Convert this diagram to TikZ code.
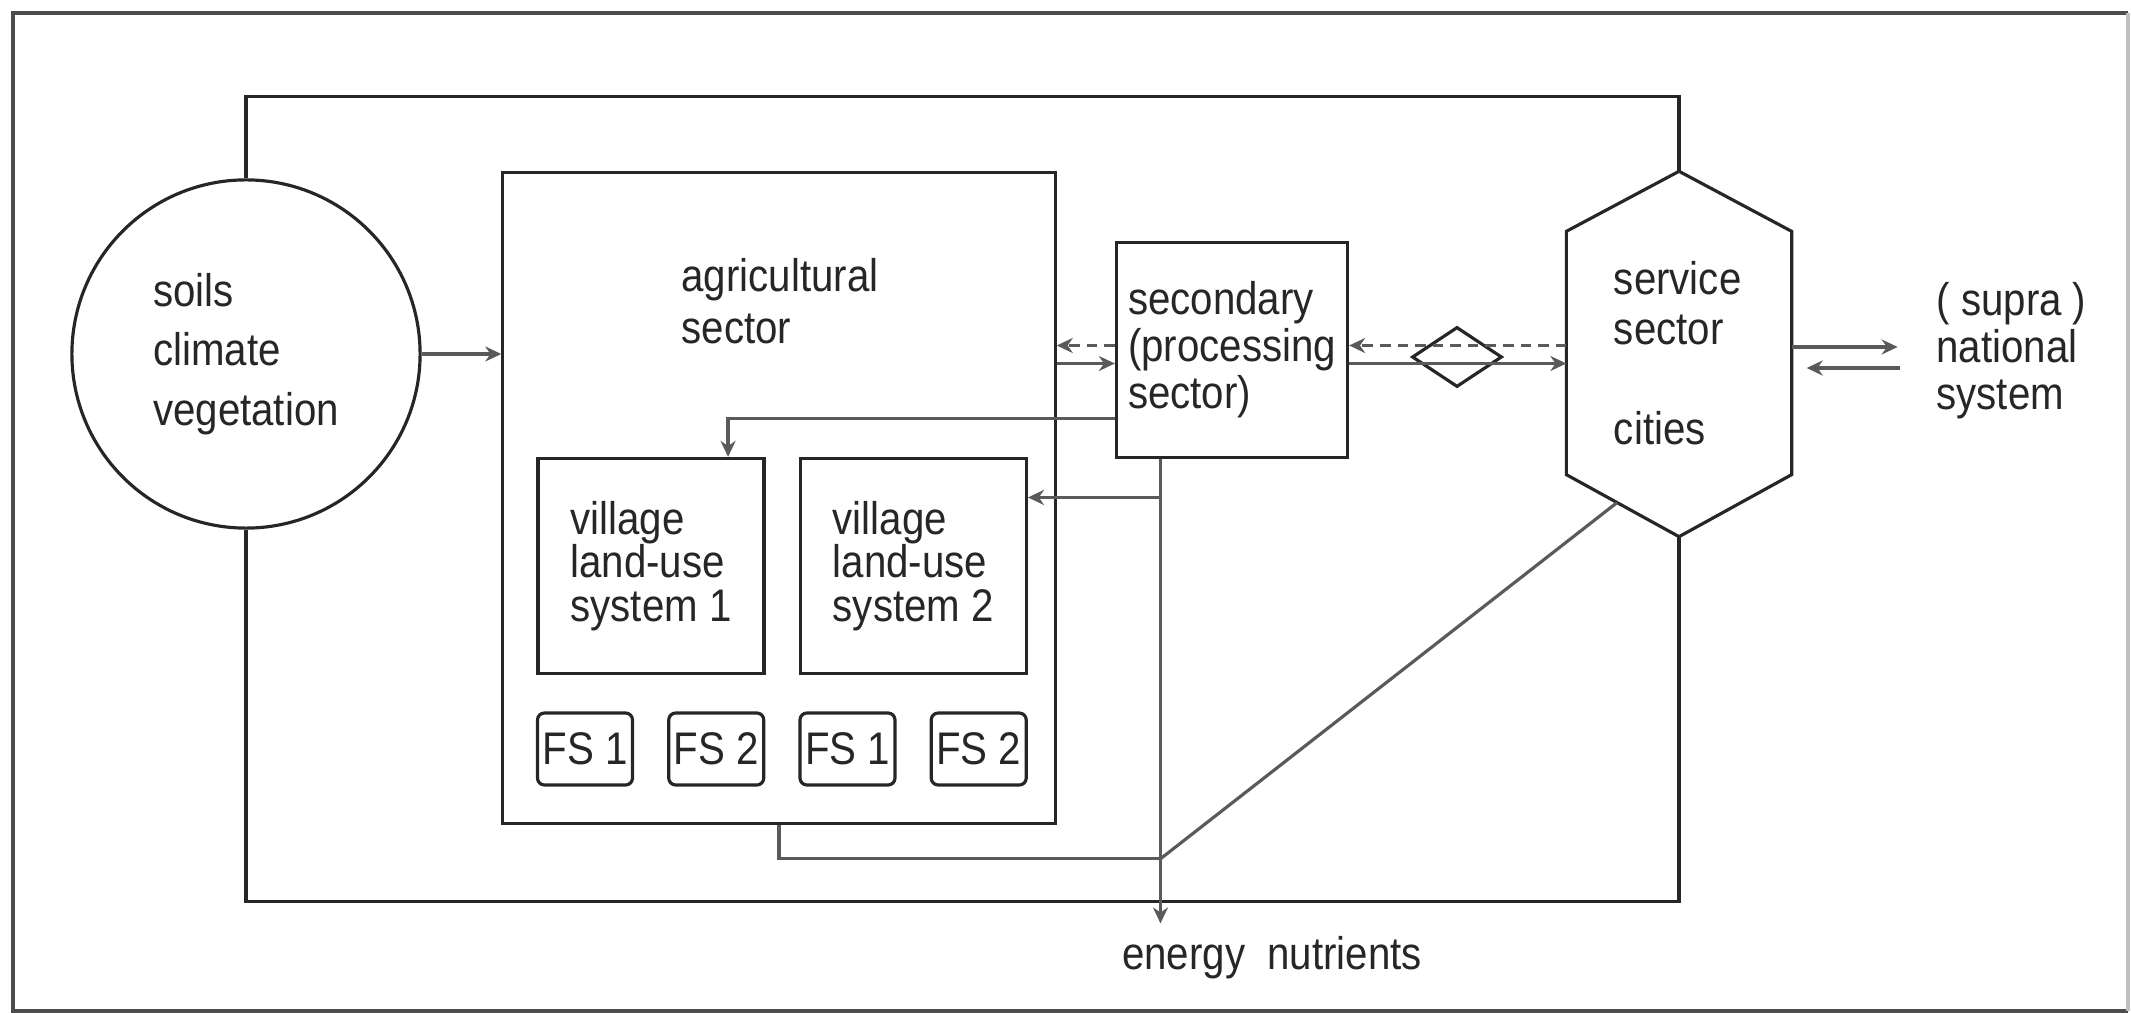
\documentclass[tikz,border=0pt]{standalone}
\usepackage{fontspec}
\setmainfont{Liberation Sans}[FakeStretch=0.88]
\usepackage{tikz}
\usetikzlibrary{positioning,arrows.meta,shapes.geometric,calc}
\definecolor{tink}{HTML}{262626}
\definecolor{tflow}{HTML}{5A5A5A}

\begin{document}
\begin{tikzpicture}[x=0.01cm, y=-0.01cm, line width=0.9pt, color=tink,
  lbl/.style={font=\fontsize{13pt}{#1}\selectfont, align=left},
  box/.style={draw, inner sep=0pt, minimum width=22.6mm, minimum height=21.5mm},
  fsbox/.style={draw, rounded corners=2pt, minimum width=9.5mm, minimum height=7.2mm, inner sep=0pt, font=\fontsize{13pt}{15pt}\selectfont},
  arr/.style={draw=tflow, -{Stealth[length=1.6mm, width=1.5mm]}}]
\useasboundingbox (0,0) rectangle (2131,1013);
% frame
\draw[line width=1.4pt, black!70] (2128,13) -- (13,13) -- (13,1011) -- (2128,1011);
\draw[line width=1.2pt, black!25] (2128,13) -- (2128,1011);
% sectors
\node[circle, draw, minimum size=34.8mm, inner sep=0pt, lbl=17pt] (soil) at (246,354) {soils\\climate\\vegetation};
\node[draw, minimum width=55.2mm, minimum height=65mm] (agri) at (779,498) {};
\node[lbl=15pt, inner sep=0pt, anchor=base west] (agrit) at (680,344) {agricultural\\sector};
\node[box, minimum width=23.1mm, lbl=13.4pt] (sec) at (1232,350) {secondary\\(processing\\sector)};
\node[diamond, draw, minimum width=9mm, minimum height=6mm, inner sep=0pt] (dia) at (1457,357) {};
\node[minimum width=22.2mm, minimum height=24mm, text width=13mm, lbl=14.2pt] (serv) at (1679,353) {service\\sector\\[14.2pt]cities};
\draw (serv.south west) -- (serv.north west) -- ([yshift=6mm]serv.north) coordinate (servtop) -- (serv.north east) -- (serv.south east) -- ([yshift=-6.2mm]serv.south) coordinate (servbot) -- cycle;
\node[lbl=13.4pt, inner sep=0pt, anchor=base west] (supra) at (1935,410) {( supra )\\national\\system};
% land-use systems
\node[box, lbl=12.4pt] (vil1) at (651,566) {village\\land-use\\system 1};
\node[box, lbl=12.4pt, right=3.3mm of vil1] (vil2) {village\\land-use\\system 2};
\node[fsbox] (fs1) at (585,749) {FS 1}; \node[fsbox, right=3.3mm of fs1] (fs2) {FS 2};
\node[fsbox, right=3.3mm of fs2] (fs3) {FS 1}; \node[fsbox, right=3.3mm of fs3] (fs4) {FS 2};
\node[lbl=15pt] (energy) at (1272,958) {energy\ \ nutrients};
% outer loop
\draw (soil.north) -- ++(0,-82) -| (servtop);
\draw (soil.south) -- ++(0,372) -| (servbot);
% exchanges
\coordinate (secu) at ([yshift=0.45mm]sec.west);
\coordinate (secl) at ([yshift=-1.35mm]sec.west);
\draw[arr] (soil.east) -- (agri.west |- soil.east);
\draw[arr, densely dashed] (secu) -- (secu -| agri.east);
\draw[arr] (secl -| agri.east) -- (secl);
\draw[arr, densely dashed] (secu -| serv.west) -- (secu -| sec.east);
\draw[arr] (secl -| sec.east) -- (secl -| serv.west);
\coordinate (servu) at ([yshift=0.6mm]serv.east);
\coordinate (servl) at ([yshift=-1.5mm]serv.east);
\draw[arr] (servu) -- ++(106,0);
\draw[arr] ([xshift=10.8mm]servl) -- ([xshift=1.5mm]servl);
% secondary to villages and out
\coordinate (secv) at ([yshift=-6.85mm]sec.west);
\draw[arr] (secv) -| ([xshift=7.7mm]vil1.north);
\coordinate (secdown) at ([xshift=-7.15mm]sec.south);
\coordinate (vil2in) at ([yshift=6.85mm]vil2.east);
\draw[arr] (secdown |- vil2in) -- (vil2in);
\draw[arr] (secdown) -- (secdown |- energy.north);
% returns
\path ([yshift=-3.4mm]agri.south) coordinate (aglow);
\coordinate (junc) at (secdown |- aglow);
\draw[tflow] (agri.south) |- (junc);
\draw[tflow] (junc) -- ($(serv.south west)!0.45!(servbot)$);
\end{tikzpicture}
\end{document}
